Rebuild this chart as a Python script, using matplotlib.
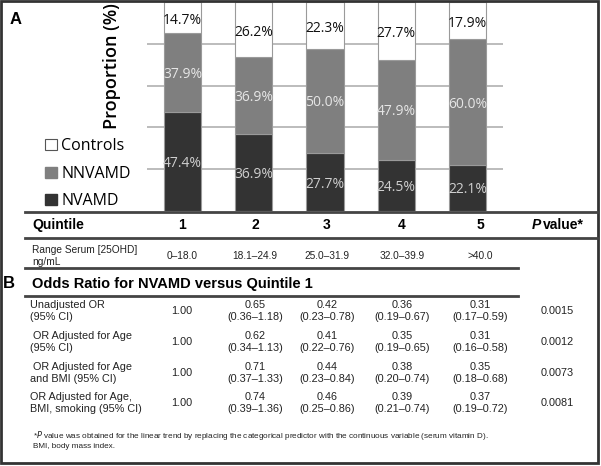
import matplotlib
matplotlib.use("Agg")
import matplotlib.pyplot as plt
from matplotlib.patches import Patch, Rectangle
from matplotlib.lines import Line2D
import numpy as np

W, H = 601, 466

# panel A data (percent of each quintile)
quintiles = ["1", "2", "3", "4", "5"]
nvamd = [47.4, 36.9, 27.7, 24.5, 22.1]
nnvamd = [37.9, 36.9, 50.0, 47.9, 60.0]
controls = [14.7, 26.2, 22.3, 27.7, 17.9]

# table data
ranges = ["0–18.0", "18.1–24.9", "25.0–31.9", "32.0–39.9", ">40.0"]
or_labels = [
    "Unadjusted OR\n(95% CI)",
    " OR Adjusted for Age\n(95% CI)",
    " OR Adjusted for Age\nand BMI (95% CI)",
    "OR Adjusted for Age,\nBMI, smoking (95% CI)",
]
or_vals = [
    ["1.00", "0.65", "0.42", "0.36", "0.31"],
    ["1.00", "0.62", "0.41", "0.35", "0.31"],
    ["1.00", "0.71", "0.44", "0.38", "0.35"],
    ["1.00", "0.74", "0.46", "0.39", "0.37"],
]
or_ci = [
    ["", "(0.36–1.18)", "(0.23–0.78)", "(0.19–0.67)", "(0.17–0.59)"],
    ["", "(0.34–1.13)", "(0.22–0.76)", "(0.19–0.65)", "(0.16–0.58)"],
    ["", "(0.37–1.33)", "(0.23–0.84)", "(0.20–0.74)", "(0.18–0.68)"],
    ["", "(0.39–1.36)", "(0.25–0.86)", "(0.21–0.74)", "(0.19–0.72)"],
]
p_vals = ["0.0015", "0.0012", "0.0073", "0.0081"]

C_NV = "#333333"
C_NN = "#7f7f7f"
C_CT = "#ffffff"
EDGE = "#9a9a9a"
CHART_FONT = "Open Sans"
TAB_FONT = "Liberation Sans"


def fx(x):
    return x / W


def fy(y):
    return 1 - y / H


def hline(fig, x0, x1, y, lw=2.0, color="#444444"):
    fig.add_artist(Line2D([fx(x0), fx(x1)], [fy(y), fy(y)], transform=fig.transFigure,
                          color=color, lw=lw))


fig = plt.figure(figsize=(W / 100, H / 100), dpi=100)

# ---- panel A: stacked bars
ax = fig.add_axes([fx(147), fy(211), fx(503) - fx(147), fy(2) - fy(211)])
xs = np.arange(len(quintiles))
bw = 0.52
ax.bar(xs, nvamd, bw, color=C_NV, edgecolor=EDGE, lw=0.8, zorder=3)
bot2 = np.array(nvamd)
ax.bar(xs, nnvamd, bw, bottom=bot2, color=C_NN, edgecolor=EDGE, lw=0.8, zorder=3)
bot3 = bot2 + np.array(nnvamd)
ax.bar(xs, controls, bw, bottom=bot3, color=C_CT, edgecolor=EDGE, lw=0.8, zorder=3)

for i in range(len(quintiles)):
    ax.text(xs[i], nvamd[i] / 2 - 1, f"{nvamd[i]:.1f}%", ha="center", va="center",
            color="#cfcfcf", fontsize=10, family=CHART_FONT, zorder=4)
    ax.text(xs[i], bot2[i] + nnvamd[i] / 2 - 1, f"{nnvamd[i]:.1f}%", ha="center",
            va="center", color="#e6e6e6", fontsize=10, family=CHART_FONT, zorder=4)
    ax.text(xs[i], bot3[i] + controls[i] / 2 - 1.5, f"{controls[i]:.1f}%", ha="center",
            va="center", color="#111111", fontsize=10, family=CHART_FONT, zorder=4)

ax.set_xlim(-0.5, 4.5)
ax.set_ylim(0, 100)
ax.set_yticks([20, 40, 60, 80])
ax.yaxis.grid(True, color="#b0b0b0", lw=1.2, zorder=0)
ax.tick_params(left=False, bottom=False, labelleft=False, labelbottom=False)
for s in ax.spines.values():
    s.set_visible(False)

fig.text(fx(112), fy(66), "Proportion (%)", rotation=90, ha="center", va="center",
         fontsize=13, fontweight="semibold", family=CHART_FONT)
fig.text(fx(10), fy(19), "A", fontsize=12, fontweight="bold", family=TAB_FONT,
         va="center")

handles = [Patch(facecolor=C_CT, edgecolor="#555555", lw=0.8),
           Patch(facecolor=C_NN, edgecolor=C_NN),
           Patch(facecolor=C_NV, edgecolor=C_NV)]
fig.legend(handles, ["Controls", "NNVAMD", "NVAMD"], loc="upper left",
           bbox_to_anchor=(fx(31), fy(124)), frameon=False, handlelength=0.7,
           handleheight=0.7, handletextpad=0.3, labelspacing=0.72,
           prop={"family": CHART_FONT, "size": 11.5})

# ---- table
col_x = [182, 255, 327, 402, 480]
p_x = 557
hline(fig, 25, 597, 212)
fig.text(fx(32), fy(225), "Quintile", fontsize=10, fontweight="bold",
         family=TAB_FONT, va="center")
for q, cx in zip(quintiles, col_x):
    fig.text(fx(cx), fy(225), q, fontsize=10, fontweight="bold", family=TAB_FONT,
             ha="center", va="center")
fig.text(fx(543), fy(225), "value*", fontsize=10, fontweight="bold",
         family=TAB_FONT, ha="left", va="center")
fig.text(fx(541), fy(225), "P", fontsize=10, fontweight="bold",
         fontstyle="italic", family=TAB_FONT, ha="right", va="center")
hline(fig, 25, 597, 238)

fig.text(fx(32), fy(256), "Range Serum [25OHD]\nng/mL", fontsize=7.3, family=TAB_FONT,
         va="center", linespacing=1.3, color="#222222")
for r, cx in zip(ranges, col_x):
    fig.text(fx(cx), fy(256), r, fontsize=7.3, family=TAB_FONT, ha="center",
             va="center", color="#222222")
hline(fig, 25, 518, 268)

fig.text(fx(3), fy(284), "B", fontsize=12, fontweight="bold", family=TAB_FONT,
         va="center")
fig.text(fx(32), fy(284), "Odds Ratio for NVAMD versus Quintile 1", fontsize=10.5,
         fontweight="bold", family=TAB_FONT, va="center")
hline(fig, 25, 518, 296)

row_y = [311, 342, 373, 403]
for lab, vals, cis, p, ry in zip(or_labels, or_vals, or_ci, p_vals, row_y):
    fig.text(fx(30), fy(ry), lab, fontsize=7.8, family=TAB_FONT, va="center",
             linespacing=1.35, color="#222222")
    for v, c, cx in zip(vals, cis, col_x):
        txt = v if not c else v + "\n" + c
        fig.text(fx(cx), fy(ry), txt, fontsize=7.8, family=TAB_FONT, ha="center",
                 va="center", linespacing=1.35, color="#222222")
    fig.text(fx(p_x), fy(ry), p, fontsize=7.8, family=TAB_FONT, ha="center",
             va="center", color="#222222")

fig.text(fx(33), fy(440),
         "*$\\it{P}$ value was obtained for the linear trend by replacing the categorical "
         "predictor with the continuous variable (serum vitamin D).\nBMI, body mass index.",
         fontsize=5.9, family=TAB_FONT, va="center", linespacing=1.2, color="#222222")

# outer frame
fig.add_artist(Rectangle((fx(1), fy(463)), fx(597), fy(1) - fy(463),
                         transform=fig.transFigure, fill=False, ec="#333333", lw=2))

fig.savefig("out.png", dpi=100)
